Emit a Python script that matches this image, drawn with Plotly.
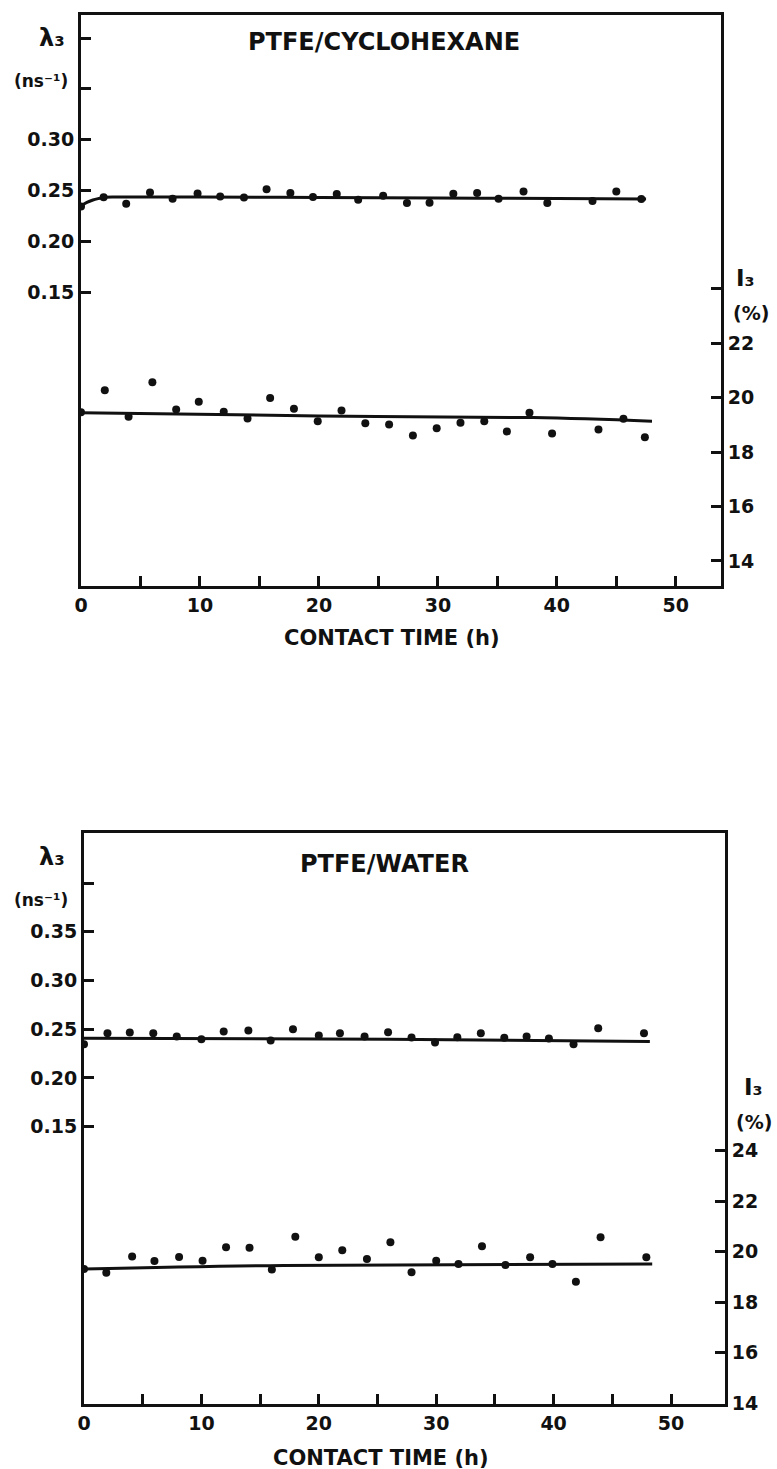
import plotly.graph_objects as go

# ---------------- data: top panel (PTFE/CYCLOHEXANE) ----------------
t_lam_top = [0, 1.9, 3.8, 5.8, 7.7, 9.8, 11.7, 13.7, 15.6, 17.6, 19.5, 21.5, 23.3, 25.4,
             27.4, 29.3, 31.3, 33.3, 35.1, 37.2, 39.2, 43.0, 45.0, 47.1]
lam_top = [0.2345, 0.2435, 0.2372, 0.2483, 0.2420, 0.2473, 0.2443, 0.2433, 0.2515, 0.2476,
           0.2437, 0.2466, 0.2411, 0.2450, 0.2378, 0.2380, 0.2469, 0.2476, 0.2420, 0.2492,
           0.2378, 0.2398, 0.2492, 0.2418]
t_int_top = [0, 2.0, 4.0, 6.0, 8.0, 9.9, 12.0, 14.0, 15.9, 17.9, 19.9, 21.9, 23.9, 25.9,
             27.9, 29.9, 31.9, 33.9, 35.8, 37.7, 39.6, 43.5, 45.6, 47.4]
int_top = [19.47, 20.28, 19.30, 20.57, 19.57, 19.85, 19.49, 19.24, 19.99, 19.60, 19.14, 19.53,
           19.06, 19.02, 18.61, 18.88, 19.08, 19.14, 18.76, 19.45, 18.69, 18.83, 19.23, 18.55]
fit_lam_top_t = [0, 0.5, 1, 1.5, 2, 3, 10, 20, 30, 40, 47.5]
fit_lam_top = [0.2350, 0.2385, 0.2408, 0.2423, 0.2435, 0.2438, 0.2437, 0.2433, 0.2428, 0.2422, 0.2418]
fit_int_top_t = [0, 20, 38, 48]
fit_int_top = [19.45, 19.33, 19.27, 19.14]

# ---------------- data: bottom panel (PTFE/WATER) ----------------
t_lam_bot = [0, 2.0, 3.9, 5.9, 7.9, 10.0, 11.9, 14.0, 15.9, 17.8, 20.0, 21.8, 23.9, 25.9,
             27.9, 29.9, 31.8, 33.8, 35.8, 37.7, 39.6, 41.7, 43.8, 47.7]
lam_bot = [0.2346, 0.2459, 0.2465, 0.2459, 0.2424, 0.2397, 0.2475, 0.2486, 0.2383, 0.2500,
           0.2434, 0.2459, 0.2424, 0.2469, 0.2414, 0.2363, 0.2418, 0.2459, 0.2411, 0.2424,
           0.2404, 0.2346, 0.2510, 0.2459]
t_int_bot = [0, 1.9, 4.1, 6.0, 8.1, 10.1, 12.1, 14.1, 16.0, 18.0, 20.0, 22.0, 24.1, 26.1,
             27.9, 30.0, 31.9, 33.9, 35.9, 38.0, 39.9, 41.9, 44.0, 47.9]
int_bot = [19.31, 19.16, 19.81, 19.63, 19.79, 19.64, 20.17, 20.15, 19.29, 20.59, 19.78, 20.05,
           19.71, 20.37, 19.18, 19.64, 19.51, 20.21, 19.47, 19.78, 19.51, 18.81, 20.57, 19.78]
fit_lam_bot_t = [0, 26, 48.2]
fit_lam_bot = [0.2408, 0.2397, 0.2373]
fit_int_bot_t = [0, 17, 48.4]
fit_int_bot = [19.31, 19.45, 19.51]

# ticks (labelled major ticks + unlabelled minor ticks)
x_tickvals = [0, 10, 20, 30, 40, 50]
x_minorvals = [5, 15, 25, 35, 45]
lam_tickvals_top = [0.15, 0.20, 0.25, 0.30]
lam_minor_top = [0.35, 0.40]
lam_tickvals_bot = [0.15, 0.20, 0.25, 0.30, 0.35]
lam_minor_bot = [0.40]
int_tickvals_top = [14, 16, 18, 20, 22]
int_minor_top = [24]
int_tickvals_bot = [14, 16, 18, 20, 22, 24]

W, H = 777, 1469
FONT = "DejaVu Sans"
INK = "#111111"

def px_x(p):
    return p / W

def px_y(p):
    return 1 - p / H

fig = go.Figure()

mk = dict(color=INK, size=8)
ln = dict(color=INK, width=3, shape="spline")

# top panel traces
fig.add_trace(go.Scatter(x=t_lam_top, y=lam_top, mode="markers", marker=mk, xaxis="x", yaxis="y"))
fig.add_trace(go.Scatter(x=fit_lam_top_t, y=fit_lam_top, mode="lines", line=ln, xaxis="x", yaxis="y"))
fig.add_trace(go.Scatter(x=t_int_top, y=int_top, mode="markers", marker=mk, xaxis="x", yaxis="y2"))
fig.add_trace(go.Scatter(x=fit_int_top_t, y=fit_int_top, mode="lines", line=ln, xaxis="x", yaxis="y2"))
# bottom panel traces
fig.add_trace(go.Scatter(x=t_lam_bot, y=lam_bot, mode="markers", marker=mk, xaxis="x2", yaxis="y3"))
fig.add_trace(go.Scatter(x=fit_lam_bot_t, y=fit_lam_bot, mode="lines", line=ln, xaxis="x2", yaxis="y3"))
fig.add_trace(go.Scatter(x=t_int_bot, y=int_bot, mode="markers", marker=mk, xaxis="x2", yaxis="y4"))
fig.add_trace(go.Scatter(x=fit_int_bot_t, y=fit_int_bot, mode="lines", line=ln, xaxis="x2", yaxis="y4"))

tickfont = dict(family=FONT, size=19, color=INK, weight="bold")
common = dict(showgrid=False, zeroline=False, showline=True, linecolor=INK, linewidth=3,
              ticks="inside", ticklen=10, tickwidth=2.5, tickcolor=INK, tickfont=tickfont,
              automargin=False)

def minor(vals):
    return dict(tickvals=vals, ticks="inside", ticklen=10, tickwidth=2.5, tickcolor=INK,
                showgrid=False)

top_dom_y = [px_y(586), px_y(15)]
bot_dom_y = [px_y(1404), px_y(833)]

fig.update_layout(
    width=W, height=H,
    margin=dict(l=0, r=0, t=0, b=0, pad=0),
    paper_bgcolor="white", plot_bgcolor="white",
    showlegend=False,
    xaxis=dict(common, domain=[px_x(81), px_x(721)], range=[0, 53.8], anchor="y",
               tickvals=x_tickvals, minor=minor(x_minorvals), mirror=True),
    yaxis=dict(common, domain=top_dom_y, range=[-0.1387, 0.4227], anchor="x",
               tickvals=lam_tickvals_top, tickformat=".2f", minor=minor(lam_minor_top)),
    yaxis2=dict(common, overlaying="y", side="right", range=[13.08, 34.07], anchor="x",
                tickvals=int_tickvals_top, minor=minor(int_minor_top)),
    xaxis2=dict(common, domain=[px_x(84), px_x(725)], range=[0, 54.6], anchor="y3",
                tickvals=x_tickvals, minor=minor(x_minorvals), mirror=True),
    yaxis3=dict(common, domain=bot_dom_y, range=[-0.1348, 0.4514], anchor="x2",
                tickvals=lam_tickvals_bot, tickformat=".2f", minor=minor(lam_minor_bot)),
    yaxis4=dict(common, overlaying="y3", side="right", range=[13.97, 36.56], anchor="x2",
                tickvals=int_tickvals_bot),
)

def ann(text, x, y, size=18, xanchor="center"):
    fig.add_annotation(text=text, x=px_x(x), y=px_y(y), xref="paper", yref="paper",
                       showarrow=False, xanchor=xanchor, yanchor="middle",
                       font=dict(family=FONT, size=size, color=INK, weight="bold"))

# top panel texts
ann("PTFE/CYCLOHEXANE", 384, 42, size=24)
ann("λ₃", 52, 38, size=24)
ann("(ns⁻¹)", 41, 81, size=17)
ann("I₃", 745, 278, size=23)
ann("(%)", 751, 313, size=19)
ann("CONTACT TIME (h)", 392, 638, size=21)

# bottom panel texts
ann("PTFE/WATER", 384, 864, size=24)
ann("λ₃", 52, 857, size=24)
ann("(ns⁻¹)", 41, 900, size=17)
ann("I₃", 753, 1087, size=23)
ann("(%)", 754, 1122, size=19)
ann("CONTACT TIME (h)", 381, 1458, size=21)

fig.write_html("out.html", config={"displayModeBar": False},
               post_script="document.body.style.margin='0px';")
